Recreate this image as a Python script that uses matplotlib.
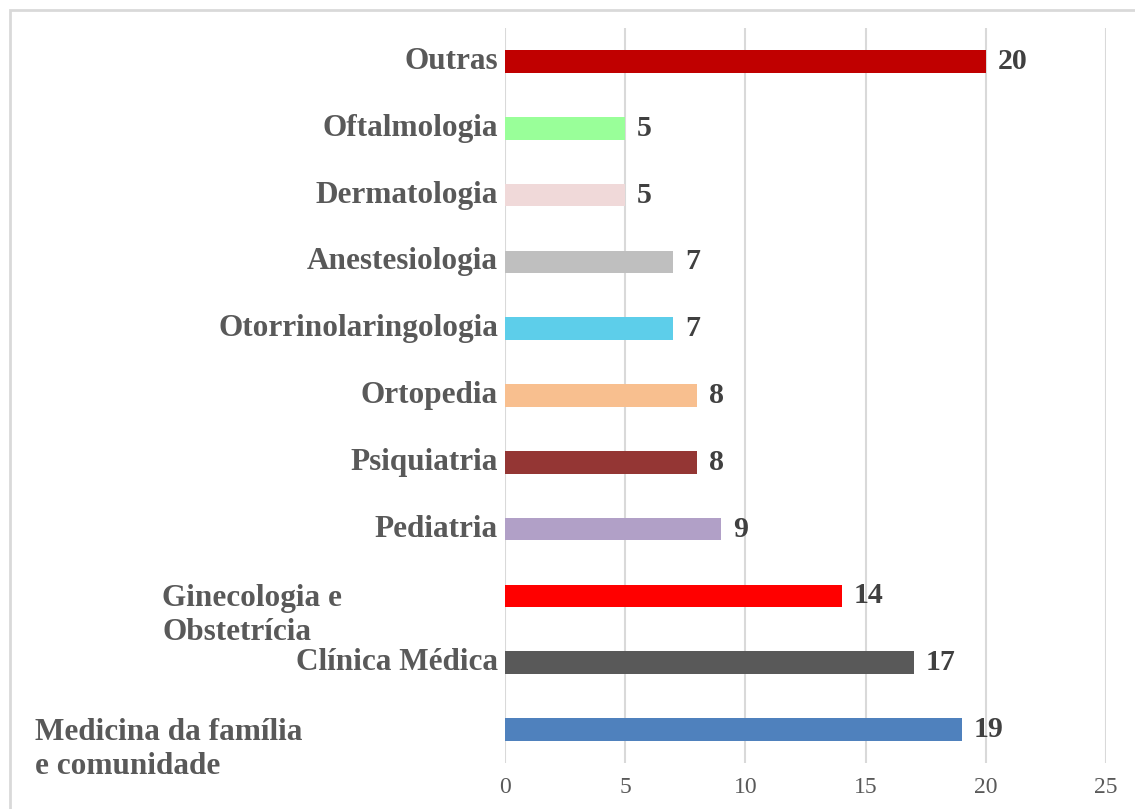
import matplotlib
matplotlib.use("Agg")
import matplotlib.pyplot as plt
from matplotlib.patches import Rectangle
import matplotlib.transforms as mtransforms

categories = ["Medicina da família\ne comunidade", "Clínica Médica", "Ginecologia e\nObstetrícia",
              "Pediatria", "Psiquiatria", "Ortopedia", "Otorrinolaringologia",
              "Anestesiologia", "Dermatologia", "Oftalmologia", "Outras"]
values = [19, 17, 14, 9, 8, 8, 7, 7, 5, 5, 20]
colors = ["#4F81BD", "#595959", "#FF0000", "#B1A0C7", "#943634", "#F8BF8F",
          "#5DCEEA", "#BFBFBF", "#F0D9D9", "#99FF99", "#C00000"]
xticks = [0, 5, 10, 15, 20, 25]

plt.rcParams['font.family'] = ['Liberation Serif', 'DejaVu Serif']

W, H = 1135, 809
fig = plt.figure(figsize=(W / 100, H / 100), dpi=100)
ax = fig.add_axes([505 / W, 1 - 763 / H, (1106 - 505) / W, (763 - 28) / H])

ypos = list(range(len(categories)))
ax.barh(ypos, values, height=0.34, color=colors, zorder=3)
ax.set_xlim(0, 25)
ax.set_ylim(-0.5, len(categories) - 0.5)

for sp in ax.spines.values():
    sp.set_visible(False)
ax.set_xticks(xticks)
ax.set_xticklabels([str(t) for t in xticks])
ax.tick_params(axis='x', length=0, labelsize=17, labelcolor="#595959", pad=10)
ax.set_yticks([])
ax.grid(axis='x', color="#D9D9D9", linewidth=1.5, zorder=0)

for y, v in zip(ypos, values):
    ax.text(v + 0.5, y, str(v), va='center', ha='left', fontsize=21.5,
            fontweight='bold', color="#404040")

lab_color = "#595959"
fs = 22.5
trans = mtransforms.blended_transform_factory(fig.transFigure, ax.transData)
for y, c in zip(ypos, categories):
    if c.startswith("Medicina"):
        ax.text(35 / W, y - 0.3, c, transform=trans, ha='left', va='center',
                fontsize=fs, fontweight='bold', color=lab_color, linespacing=1.25)
    elif c.startswith("Ginecologia"):
        ax.text(162 / W, y - 0.29, c, transform=trans, ha='left', va='center',
                fontsize=fs, fontweight='bold', color=lab_color, linespacing=1.2)
    else:
        ax.text(498 / W, y, c, transform=trans, ha='right', va='center',
                fontsize=fs, fontweight='bold', color=lab_color)

fig.patches.append(Rectangle((10 / W, -0.1), 1.2, 1 - 10 / H + 0.1, transform=fig.transFigure,
                             fill=False, edgecolor="#D9D9D9", linewidth=2))

fig.savefig("out.png", dpi=100)
